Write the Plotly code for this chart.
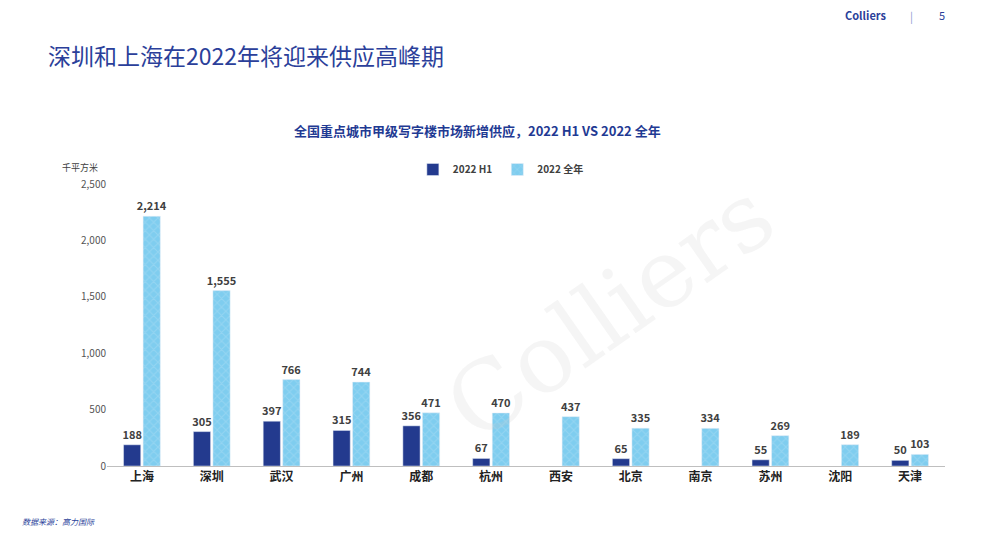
import plotly.graph_objects as go

cities = ["上海", "深圳", "武汉", "广州", "成都", "杭州", "西安", "北京", "南京", "苏州", "沈阳", "天津"]
h1 = [188, 305, 397, 315, 356, 67, None, 65, None, 55, None, 50]
full_year = [2214, 1555, 766, 744, 471, 470, 437, 335, 334, 269, 189, 103]
y_ticks = [0, 500, 1000, 1500, 2000, 2500]

navy = "#233a8e"
light = "#7fcdef"
label_font = dict(family="Noto Sans CJK SC", size=11, color="#404040")

fig = go.Figure()
fig.add_trace(go.Bar(
    x=cities, y=h1, name="<b>2022 H1</b>", marker_color=navy,
    text=[f"<b>{v:,}</b>" if v is not None else "" for v in h1],
    textposition="outside", textfont=label_font, cliponaxis=False,
))
fig.add_trace(go.Bar(
    x=cities, y=full_year, name="<b>2022 全年</b>",
    marker=dict(color=light, pattern=dict(shape="x", fgcolor="#a9dcf3", size=6, solidity=0.3)),
    text=[f"<b>{v:,}</b>" for v in full_year],
    textposition="outside", textfont=label_font, cliponaxis=False,
))

L, T, W, H = 99, 176, 838, 282
fig.update_layout(
    width=996, height=542,
    margin=dict(l=L, r=996 - L - W, t=T, b=542 - T - H),
    paper_bgcolor="white", plot_bgcolor="white",
    font=dict(family="Noto Sans CJK SC", size=11, color="#404040"),
    barmode="group", bargap=0.44, bargroupgap=0.12,
    showlegend=True,
    legend=dict(orientation="h", x=0.47, y=1.0, xanchor="center", yanchor="bottom",
                itemwidth=30, font=dict(size=10, color="#404040")),
    uniformtext=dict(minsize=11, mode="show"),
)
fig.update_yaxes(range=[0, 2500], tickvals=y_ticks, tickformat=",", showgrid=False,
                 zeroline=False, showline=False, ticks="", tickfont=dict(size=10, color="#555555"))
fig.update_xaxes(showline=True, linecolor="#bfbfbf", linewidth=1, ticks="",
                 tickvals=cities, ticktext=[f"<b>{c}</b>" for c in cities],
                 tickfont=dict(size=12, color="#222222"))


def px_x(x):
    return (x - 8 - L) / W


def px_y(y):
    return (T + H - (y - 8)) / H


annos = [
    dict(text="深圳和上海在2022年将迎来供应高峰期", x=46, y=55, font=dict(size=23, color="#2b3f9a")),
    dict(text="<b>全国重点城市甲级写字楼市场新增供应，2022 H1 VS 2022 全年</b>", x=292, y=130,
         font=dict(size=13, color="#1f3a93")),
    dict(text="千平方米", x=60, y=168, font=dict(size=9, color="#404040")),
    dict(text="<i>数据来源：高力国际</i>", x=20, y=521, font=dict(size=8, color="#2b3f9a")),
    dict(text="<b>Colliers</b>", x=843, y=15, font=dict(size=11, color="#2b3f9a")),
    dict(text="|", x=908, y=16, font=dict(size=11, color="#8a9ad0")),
    dict(text="5", x=937, y=15, font=dict(size=11, color="#2b3f9a")),
]
for a in annos:
    fig.add_annotation(text=a["text"], xref="paper", yref="paper",
                       x=px_x(a["x"]), y=px_y(a["y"]), xanchor="left", yanchor="middle",
                       showarrow=False, font=dict(family="Noto Sans CJK SC", **a["font"]))

# watermark
fig.add_annotation(text="Colliers", xref="paper", yref="paper", x=0.6, y=0.55,
                   showarrow=False, textangle=-35,
                   font=dict(family="DejaVu Serif", size=95, color="rgba(200,200,200,0.18)"))

fig.write_html("out.html")
